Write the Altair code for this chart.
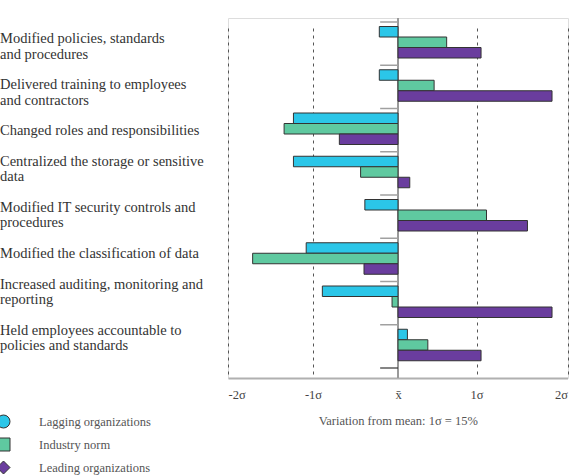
import altair as alt
import pandas as pd

# Practice labels (line breaks as printed)
practices = [
    "Modified policies, standards\nand procedures",
    "Delivered training to employees\nand contractors",
    "Changed roles and responsibilities",
    "Centralized the storage or sensitive\ndata",
    "Modified IT security controls and\nprocedures",
    "Modified the classification of data",
    "Increased auditing, monitoring and\nreporting",
    "Held employees accountable to\npolicies and standards",
]

groups = ["Lagging organizations", "Industry norm", "Leading organizations"]
group_colors = ["#2BC6E8", "#5FC9A0", "#6A3D9E"]
group_shapes = ["circle", "square", "diamond"]

# Variation from the mean, in standard deviations
lagging = [-0.22, -0.22, -1.23, -1.23, -0.39, -1.08, -0.89, 0.12]
norm = [0.62, 0.46, -1.34, -0.44, 1.11, -1.71, -0.07, 0.38]
leading = [1.05, 1.83, -0.69, 0.15, 1.56, -0.40, 1.83, 1.05]

sigma_ticks = [-2, -1, 0, 1, 2]
sigma_range = [0, 85, 170, 248.5, 339.5]

FONT = "Liberation Serif"
LINE_H = 15.35

rows = []
for g, vals in zip(groups, [lagging, norm, leading]):
    for p, v in zip(practices, vals):
        rows.append({"practice": p, "group": g, "value": v})
bars_df = pd.DataFrame(rows)

# Label text flows down the left margin with a blank line between entries
label_df = pd.DataFrame({"practice": practices})
n_lines = label_df["practice"].str.count("\n") + 1
label_df["line"] = (n_lines + 1).cumsum() - (n_lines + 1)
last_line = int(label_df["line"].iloc[-1])

xscale = alt.Scale(domain=sigma_ticks, range=sigma_range, nice=False, zero=False)
yband = alt.Scale(domain=practices, range=[4, 350], paddingInner=0, paddingOuter=0)

x_axis = alt.Axis(
    values=sigma_ticks,
    labelExpr="datum.value == 0 ? 'x\u0304' : datum.value + '\u03c3'",
    title="Variation from mean: 1\u03c3 = 15%",
    grid=True, gridDash=[3, 4], gridColor="#555555", gridWidth=1,
    domainColor="#b0b0b0", domainWidth=2, ticks=False,
    labelPadding=10, labelFont=FONT, labelFontSize=12.5, labelColor="#444444",
    titleFont=FONT, titleFontSize=12.5, titleFontWeight="normal",
    titleColor="#555555", titlePadding=14,
)

legend = alt.Legend(
    title=None, orient="none", legendX=-231.5, legendY=396.5,
    symbolSize=169, symbolStrokeColor="#333333", symbolStrokeWidth=1,
    labelFont=FONT, labelFontSize=12.5, labelColor="#555555",
    labelOffset=28.5, rowPadding=5,
)

color = alt.Color("group:N", scale=alt.Scale(domain=groups, range=group_colors), legend=legend)

bars = alt.Chart(bars_df).mark_bar(stroke="#333333", strokeWidth=1).encode(
    x=alt.X("value:Q", scale=xscale, axis=x_axis),
    x2=alt.datum(0),
    y=alt.Y("practice:N", scale=yband, axis=None),
    yOffset=alt.YOffset("group:N", scale=alt.Scale(domain=groups, range=[4.5, 36], paddingInner=0, paddingOuter=0)),
    color=color,
)

legend_pts = alt.Chart(bars_df).transform_filter("false").mark_point(
    filled=True, stroke="#333333", strokeWidth=1, opacity=1
).encode(
    x=alt.X("value:Q", scale=xscale),
    y=alt.Y("practice:N", scale=yband, axis=None),
    color=color,
    shape=alt.Shape("group:N", scale=alt.Scale(domain=groups, range=group_shapes), legend=legend),
)

zero_line = alt.Chart(bars_df).mark_rule(color="#9a9a9a", strokeWidth=1.5).encode(
    x=alt.datum(0, scale=xscale),
)

sep_df = pd.DataFrame({"practice": practices})
separators = alt.Chart(sep_df).mark_rule(color="#a0a0a0", strokeWidth=1.5).encode(
    y=alt.Y("practice:N", scale=yband, bandPosition=0, axis=None),
    x=alt.datum(-0.21, scale=xscale),
    x2=alt.datum(0),
)
last_sep = alt.Chart(sep_df.tail(1)).mark_rule(color="#333333", strokeWidth=1.2).encode(
    y=alt.Y("practice:N", scale=yband, bandPosition=1, axis=None),
    x=alt.datum(-0.21, scale=xscale),
    x2=alt.datum(0),
)

labels = alt.Chart(label_df).mark_text(
    align="left", baseline="alphabetic", lineBreak="\n", lineHeight=LINE_H,
    font=FONT, fontSize=14.5, color="#333333",
).encode(
    x=alt.value(-228),
    y=alt.Y("line:Q", scale=alt.Scale(domain=[0, last_line], range=[25.3, 25.3 + last_line * LINE_H]), axis=None),
    text="practice:N",
)

main = alt.layer(zero_line, separators, last_sep, bars, legend_pts)

chart = alt.layer(main, labels).resolve_scale(y="independent").properties(
    width=340, height=360,
    autosize=alt.AutoSizeParams(type="none"),
    padding={"left": 228, "top": 18, "right": 10, "bottom": 97},
).configure_view(stroke=None).configure(background="white")

chart.save("out.html", embed_options={"renderer": "svg", "actions": False})
